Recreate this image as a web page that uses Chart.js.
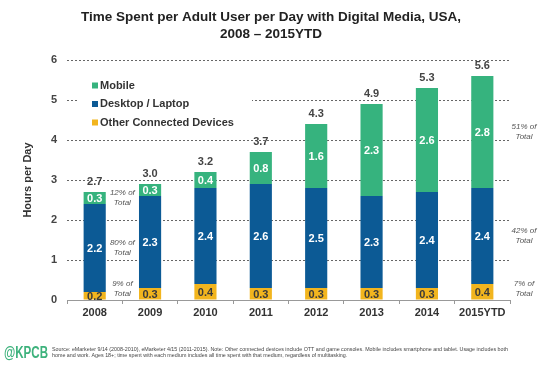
<!DOCTYPE html>
<html>
<head>
<meta charset="utf-8">
<script src="https://cdn.jsdelivr.net/npm/chart.js@4"></script>
<style>
  html, body { margin: 0; padding: 0; background: #fff; }
  #wrap { width: 550px; height: 367px; position: relative; }
</style>
</head>
<body>
<div id="wrap"><canvas id="myChart"></canvas></div>
<script>
// data (hours per day)
const years = ['2008', '2009', '2010', '2011', '2012', '2013', '2014', '2015YTD'];
const other = [0.2, 0.3, 0.4, 0.3, 0.3, 0.3, 0.3, 0.4];
const desktop = [2.2, 2.3, 2.4, 2.6, 2.5, 2.3, 2.4, 2.4];
const mobile = [0.3, 0.3, 0.4, 0.8, 1.6, 2.3, 2.6, 2.8];
const totals = ['2.7', '3.0', '3.2', '3.7', '4.3', '4.9', '5.3', '5.6'];
// share of total, order: other, desktop, mobile
const share2008 = ['9%', '80%', '12%'];
const share2015 = ['7%', '42%', '51%'];

const titleLines = ['Time Spent per Adult User per Day with Digital Media, USA,', '2008 \u2013 2015YTD'];
const legendItems = [
  { text: 'Mobile', color: '#36b37e' },
  { text: 'Desktop / Laptop', color: '#0c5a95' },
  { text: 'Other Connected Devices', color: '#f2b51e' },
];
const sourceLines = [
  'Source: eMarketer 9/14 (2008-2010), eMarketer 4/15 (2011-2015). Note: Other connected devices include OTT and game consoles. Mobile includes smartphone and tablet. Usage includes both',
  'home and work. Ages 18+; time spent with each medium includes all time spent with that medium, regardless of multitasking.'
];

const font = '"Liberation Sans", Arial, sans-serif';
const ctx = document.getElementById('myChart');

const barLabels = {
  id: 'barLabels',
  afterDatasetsDraw(chart) {
    const c = chart.ctx;
    const area = chart.chartArea;
    c.save();
    c.textAlign = 'center';
    c.textBaseline = 'middle';

    // title
    c.fillStyle = '#222';
    c.font = 'bold 13.5px ' + font;
    c.fillText(titleLines[0], 271, 17);
    c.fillText(titleLines[1], 271, 34);

    c.font = 'bold 11px ' + font;
    chart.data.datasets.forEach((ds, i) => {
      chart.getDatasetMeta(i).data.forEach((bar, j) => {
        c.fillStyle = i === 0 ? '#3a3a3a' : '#ffffff';
        c.fillText(ds.data[j].toFixed(1), bar.x, (bar.y + bar.base) / 2 + 1);
      });
    });
    // totals above bars
    const top = chart.getDatasetMeta(2).data;
    c.fillStyle = '#444';
    top.forEach((bar, j) => {
      c.fillText(totals[j], bar.x, bar.y - 10);
    });

    // share notes
    c.font = 'italic 8px ' + font;
    c.fillStyle = '#555';
    const first = chart.getDatasetMeta(0).data;
    const xLeft = (first[0].x + first[1].x) / 2;
    const xRight = area.right + 14;
    const last = first.length - 1;
    for (let i = 0; i < 3; i++) {
      const b0 = chart.getDatasetMeta(i).data[0];
      const b1 = chart.getDatasetMeta(i).data[last];
      let y0 = (b0.y + b0.base) / 2;
      let y1 = (b1.y + b1.base) / 2;
      if (i === 0) { y0 -= 7; y1 -= 3; }
      c.fillText(share2008[i] + ' of', xLeft, y0 - 5);
      c.fillText('Total', xLeft, y0 + 5);
      c.fillText(share2015[i] + ' of', xRight, y1 - 5);
      c.fillText('Total', xRight, y1 + 5);
    }

    // legend inside the plot
    const lx = area.left + 25;
    c.fillStyle = '#fff';
    c.fillRect(area.left + 10, area.top + 14, 175, 60);
    c.font = 'bold 11px ' + font;
    c.textAlign = 'left';
    legendItems.forEach((it, k) => {
      const ly = area.top + 25.5 + k * 18.5;
      c.fillStyle = it.color;
      c.fillRect(lx, ly - 3, 6, 6);
      c.fillStyle = '#333';
      c.fillText(it.text, lx + 8, ly);
    });

    // footer
    c.fillStyle = '#3db27c';
    c.font = 'bold 16px "Liberation Sans Narrow", ' + font;
    const w = c.measureText('@KPCB').width;
    c.save();
    c.translate(4, 354);
    c.scale(44 / w, 1);
    c.fillText('@KPCB', 0, 0);
    c.restore();
    c.fillStyle = '#444';
    c.font = '5.3px ' + font;
    const sw = c.measureText(sourceLines[0]).width;
    c.save();
    c.translate(52, 0);
    c.scale(456 / sw, 1);
    c.fillText(sourceLines[0], 0, 349.5);
    c.fillText(sourceLines[1], 0, 355.5);
    c.restore();
    c.restore();
  }
};

new Chart(ctx, {
  type: 'bar',
  data: {
    labels: years,
    datasets: [
      { label: 'Other Connected Devices', data: other, backgroundColor: '#f2b51e' },
      { label: 'Desktop / Laptop', data: desktop, backgroundColor: '#0c5a95' },
      { label: 'Mobile', data: mobile, backgroundColor: '#36b37e' },
    ],
  },
  options: {
    responsive: true,
    maintainAspectRatio: false,
    animation: false,
    datasets: {
      bar: { categoryPercentage: 1, barPercentage: 0.4 }
    },
    layout: { padding: { left: 21, right: 40, top: 60, bottom: 45 } },
    scales: {
      x: {
        stacked: true,
        afterFit: (s) => { s.height = 22; },
        grid: { drawOnChartArea: false, drawTicks: true, tickLength: 4, offset: true, color: '#999' },
        border: { display: true, color: '#999' },
        ticks: { color: '#333', font: { family: font, size: 11, weight: 'bold' }, padding: 2 },
      },
      y: {
        stacked: true,
        min: 0,
        max: 6,
        afterFit: (s) => { s.width = 46; },
        ticks: { stepSize: 1, color: '#444', font: { family: font, size: 11, weight: 'bold' }, padding: 10 },
        grid: { color: '#666', drawTicks: false },
        border: { display: false, dash: [2, 2] },
        title: {
          display: true,
          text: 'Hours per Day',
          color: '#333',
          font: { family: font, size: 11, weight: 'bold' },
          padding: { top: 0, bottom: 10 },
        },
      },
    },
    plugins: {
      legend: { display: false },
      tooltip: { enabled: false },
    },
  },
  plugins: [barLabels],
});
</script>
</body>
</html>
